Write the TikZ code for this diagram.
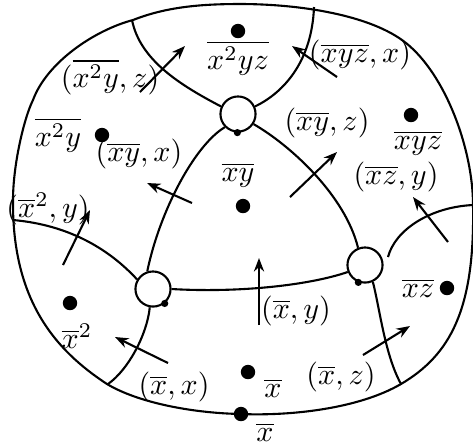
\documentclass[tikz,border=0pt]{standalone}
\usetikzlibrary{arrows.meta}
\begin{document}
\begin{tikzpicture}[x=0.3333pt, y=-0.3333pt, line width=0.7pt,
  hole/.style={draw, circle, minimum size=11.7pt, inner sep=0pt},
  spot/.style={fill, circle, minimum size=4.8pt, inner sep=0pt},
  tick/.style={fill, circle, minimum size=2.4pt, inner sep=0pt},
  ar/.style={-{Stealth[length=4.5pt,width=3.4pt]}},
  lab/.style={inner sep=1pt}]
\useasboundingbox (0,0) rectangle (473,446);
% outer boundary
\draw (240,4) .. controls (300,4) and (371,15) .. (406,43)
  .. controls (446,75) and (473,150) .. (473,205)
  .. controls (475,310) and (450,355) .. (401,384)
  .. controls (358,409) and (290,416) .. (241,414)
  .. controls (190,413) and (137,402) .. (107,384)
  .. controls (55,350) and (12,300) .. (13,200)
  .. controls (13,165) and (24,118) .. (33,100)
  .. controls (47,62) and (95,30) .. (133,20)
  .. controls (166,7) and (200,4) .. (240,4) -- cycle;
% holes
\node[hole] (ct) at (238,114) {};
\node[hole] (cl) at (153,289) {};
\node[hole] (cr) at (365,265) {};
\node[tick] (tt) at (ct.-92) {};
\node[tick] (tl) at (cl.-51) {};
\node[tick] (tr) at (cr.-111) {};
% ends on the boundary
\coordinate (btl) at (132,20);
\coordinate (btr) at (314,7);
\coordinate (bl)  at (13,220);
\coordinate (bbl) at (108,384);
\coordinate (bbr) at (401,384);
\coordinate (br)  at (473,205);
\coordinate (rs)  at (388,257);
% walls
\draw (btl) .. controls (140,60) and (180,85) .. (ct.156);
\draw (ct.24) .. controls (285,92) and (312,60) .. (btr);
\draw (ct.-33) .. controls (290,145) and (345,195) .. (cr.112);
\draw (ct.-135) .. controls (195,145) and (160,210) .. (cl.108);
\draw (cl.0) .. controls (240,293) and (310,285) .. (cr.-158);
\draw (cl.149) .. controls (110,250) and (70,225) .. (bl);
\draw (cl.-100) .. controls (147,335) and (128,370) .. (bbl);
\draw (cr.-65) .. controls (380,310) and (385,355) .. (bbr);
\draw (rs) .. controls (395,230) and (430,207) .. (br);
% arrows
\foreach \n/\xa/\ya/\xb/\yb in {a/140/92/185/46, b/337/77/292/46,
    c/192/203/147/183, d/290/197/337/152, e/448/242/413/197,
    f/63/265/90/210, g/259/325/259/258, h/363/355/410/326,
    i/168/363/115/337}{
  \coordinate (from-\n) at (\xa,\ya);
  \coordinate (to-\n) at (\xb,\yb);
  \draw[ar] (from-\n) -- (to-\n);
}
% spots
\node[spot] (s1) at (238,31) {};
\node[spot] (s2) at (102,135) {};
\node[spot] (s3) at (411,115) {};
\node[spot] (s4) at (243,206) {};
\node[spot] (s5) at (70,303) {};
\node[spot] (s6) at (447,288) {};
\node[spot] (s7) at (248,372) {};
\node[spot] (s8) at (241,414) {};
\node[lab] (n1) at (238,58) {$\overline{x^2yz}$};
\node[lab] (n2) at (58,135) {$\overline{x^2y}$};
\node[lab] (n3) at (418,143) {$\overline{xyz}$};
\node[lab] (n4) at (238,175) {$\overline{xy}$};
\node[lab] (n5) at (77,336) {$\overline{x}^2$};
\node[lab] (n6) at (418,288) {$\overline{xz}$};
\node[lab] (n7) at (273,388) {$\overline{x}$};
\node[lab] (n8) at (265,432) {$\overline{x}$};
% pairs
\node[lab] (p1) at (110,77) {$(\overline{x^2y}, z)$};
\node[lab] (p2) at (360,55) {$(\overline{xyz}, x)$};
\node[lab] (p3) at (139,154) {$(\overline{xy}, x)$};
\node[lab] (p4) at (327,123) {$(\overline{xy}, z)$};
\node[lab] (p5) at (396,177) {$(\overline{xz}, y)$};
\node[lab] (p6) at (48,209) {$(\overline{x}^2, y)$};
\node[lab] (p7) at (296,311) {$(\overline{x}, y)$};
\node[lab] (p8) at (341,377) {$(\overline{x}, z)$};
\node[lab] (p9) at (174,387) {$(\overline{x}, x)$};
\end{tikzpicture}
\end{document}
